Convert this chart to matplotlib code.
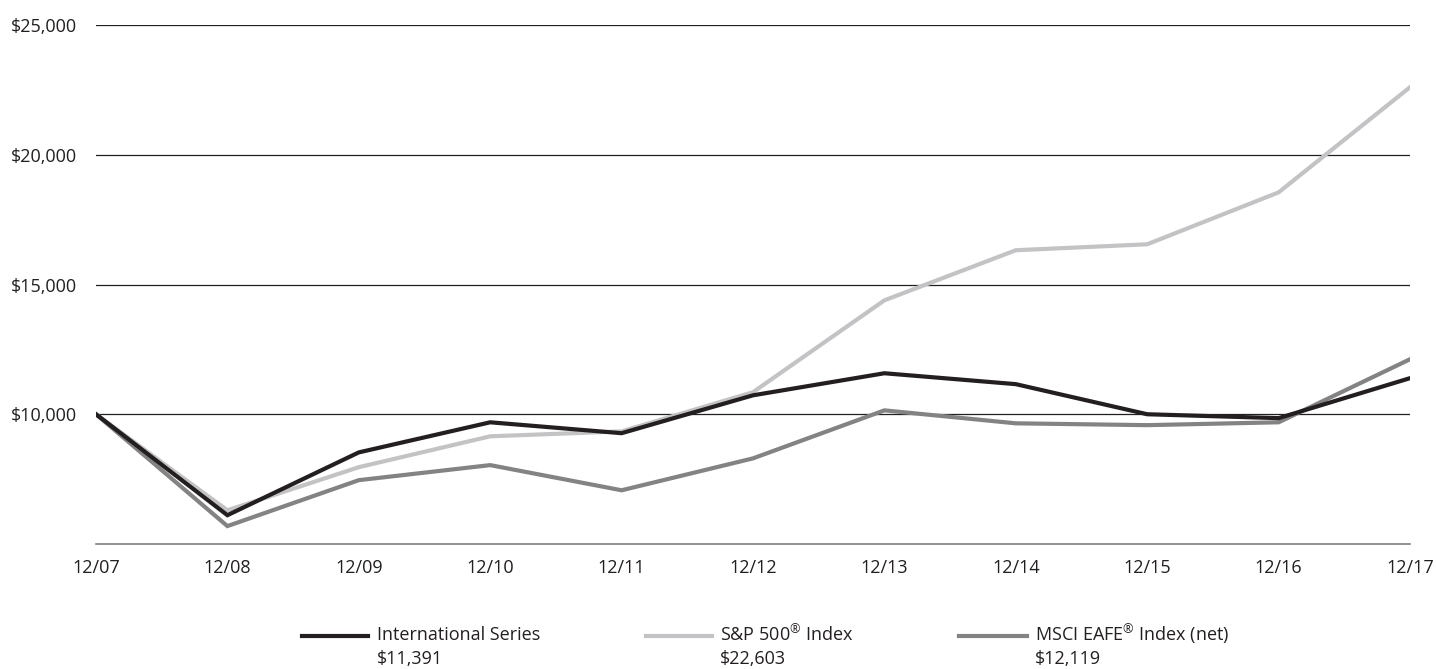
import matplotlib.pyplot as plt
from matplotlib.lines import Line2D

# -------- DATA --------
years = ["12/07", "12/08", "12/09", "12/10", "12/11", "12/12",
         "12/13", "12/14", "12/15", "12/16", "12/17"]

intl_series = [10000, 6110, 8530, 9690, 9270, 10730, 11580, 11160, 10000, 9850, 11391]
sp500       = [10000, 6300, 7960, 9150, 9340, 10850, 14390, 16320, 16550, 18550, 22603]
msci_eafe   = [10000, 5690, 7460, 8040, 7070, 8300, 10150, 9650, 9580, 9690, 12119]

series_names = ["International Series", "S&P 500$^{\u00ae}$ Index", "MSCI EAFE$^{\u00ae}$ Index (net)"]
end_labels   = ["$11,391", "$22,603", "$12,119"]

y_ticks = [10000, 15000, 20000, 25000]

# -------- STYLE --------
COLORS = ["#231f20", "#c3c3c5", "#838384"]
LW = 3.0
FS = 13
plt.rcParams['font.family'] = ['Open Sans', 'DejaVu Sans']
plt.rcParams['mathtext.fontset'] = 'custom'
plt.rcParams['mathtext.rm'] = 'Open Sans'

W, H = 1436, 669
fig = plt.figure(figsize=(W / 100, H / 100), dpi=100)
ax = fig.add_axes([96 / W, 1 - 544 / H, (1410 - 96) / W, (544 - 25) / H])

x = list(range(len(years)))

# grid lines
for yv in y_ticks:
    ax.axhline(yv, color="#231f20", lw=0.9, zorder=1)

# draw lightest first so black sits on top
ax.plot(x, sp500, color=COLORS[1], lw=LW, solid_joinstyle='miter', zorder=3)
ax.plot(x, msci_eafe, color=COLORS[2], lw=LW, solid_joinstyle='miter', zorder=4)
ax.plot(x, intl_series, color=COLORS[0], lw=LW, solid_joinstyle='miter', zorder=5)

ax.set_xlim(0, len(years) - 1)
ax.set_ylim(5000, 25000)

ax.set_yticks(y_ticks)
ax.set_yticklabels([f"${v:,}" for v in y_ticks])
ax.set_xticks(x)
ax.set_xticklabels(years)
ax.tick_params(axis='both', length=0, labelsize=FS, colors="#231f20")
ax.tick_params(axis='y', pad=14)
ax.tick_params(axis='x', pad=11)

for side in ['top', 'right', 'left']:
    ax.spines[side].set_visible(False)
ax.spines['bottom'].set_color("#808080")
ax.spines['bottom'].set_linewidth(1.2)

# -------- LEGEND (manual, bottom) --------
handle_x = [(302, 368), (646, 712), (959, 1027)]
text_x = [377, 720, 1035]
for i in range(3):
    x0, x1 = handle_x[i]
    fig.add_artist(Line2D([x0 / W, x1 / W], [1 - 636 / H, 1 - 636 / H],
                          color=COLORS[i], lw=LW, transform=fig.transFigure))
    fig.text(text_x[i] / W, 1 - 635 / H, series_names[i], fontsize=FS,
             color="#231f20", va='center', ha='left')
    fig.text(text_x[i] / W, 1 - 659 / H, end_labels[i], fontsize=FS,
             color="#231f20", va='center', ha='left')

plt.savefig("out.png", dpi=100)
plt.close()
